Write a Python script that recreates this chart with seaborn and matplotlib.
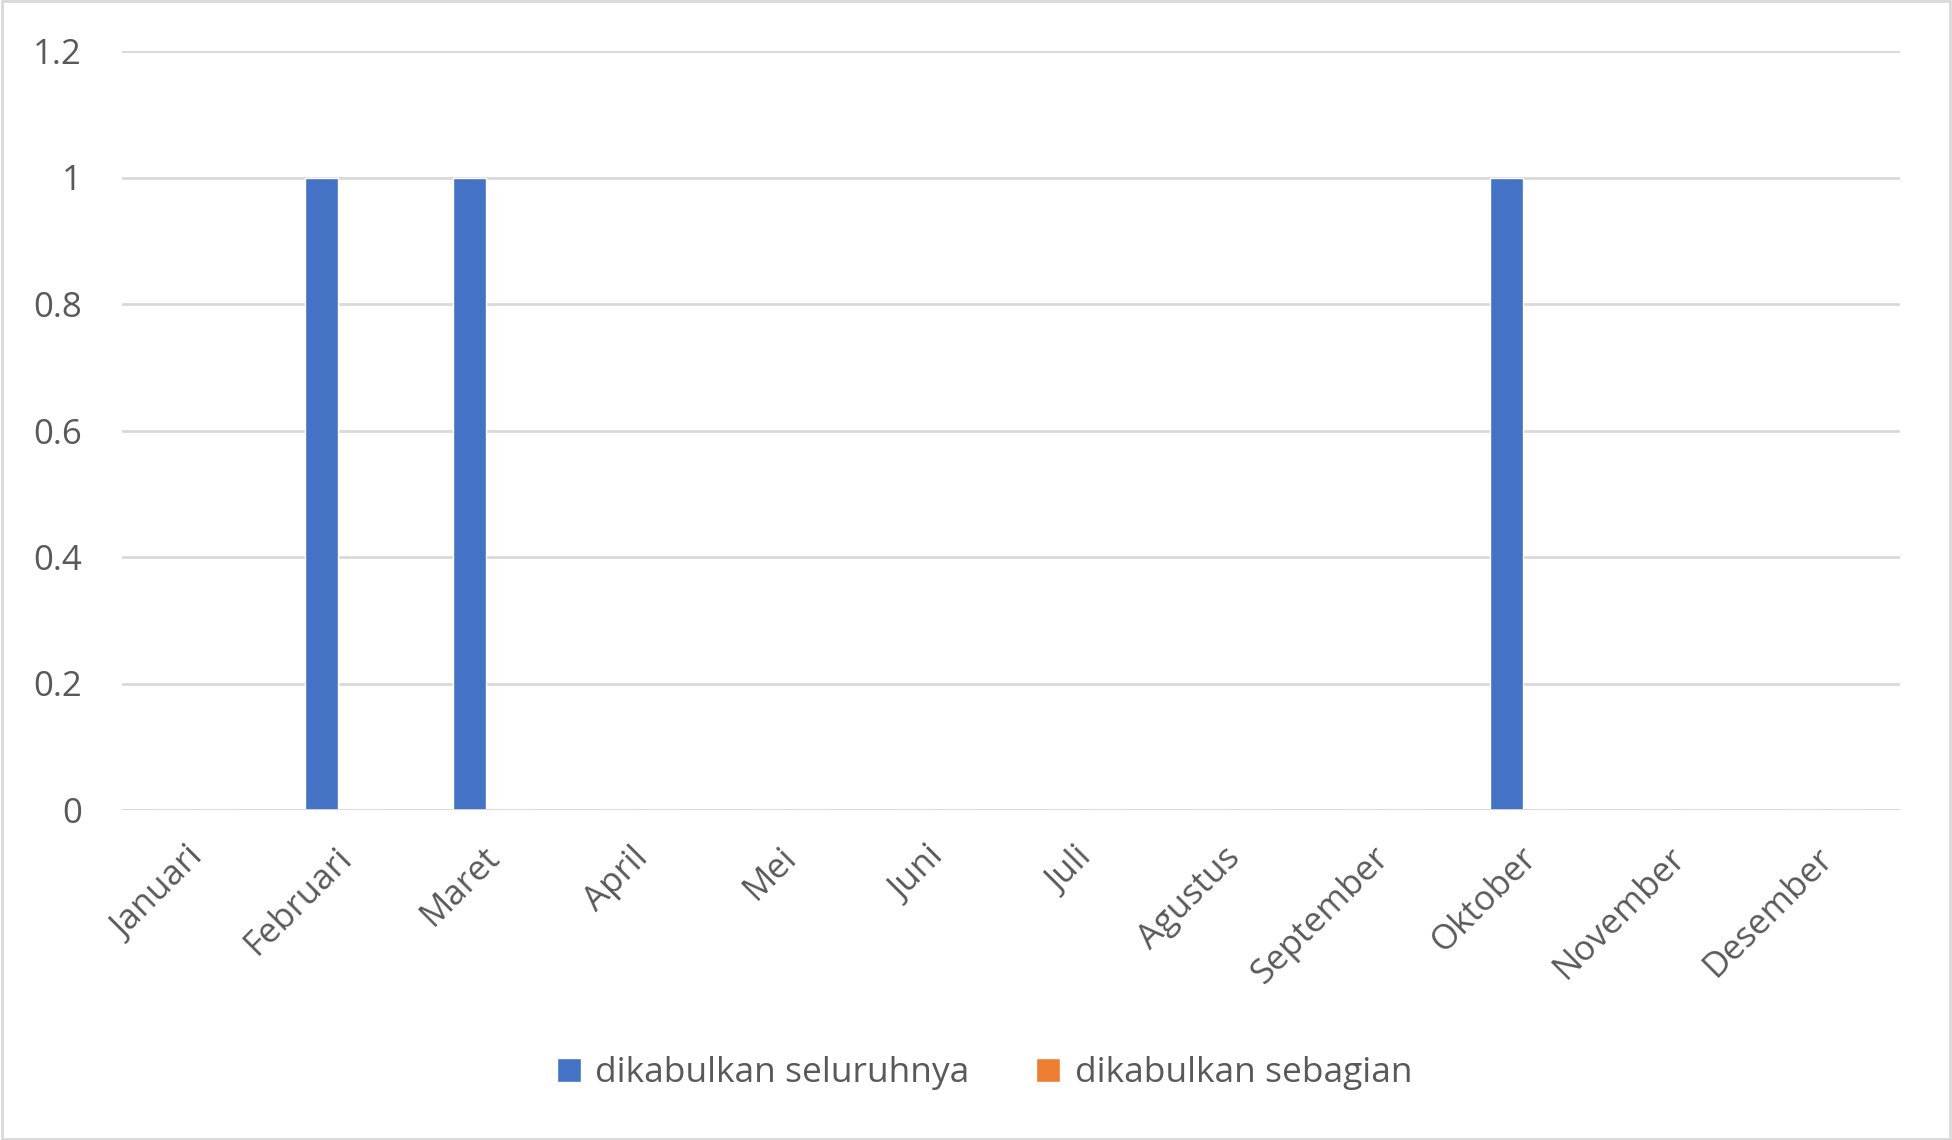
import pandas as pd
import matplotlib.pyplot as plt
import matplotlib.transforms as mtransforms
import seaborn as sns

# data
months = ["Januari", "Februari", "Maret", "April", "Mei", "Juni", "Juli",
          "Agustus", "September", "Oktober", "November", "Desember"]
seluruhnya = [0, 1, 1, 0, 0, 0, 0, 0, 0, 1, 0, 0]
sebagian = [0, 0, 0, 0, 0, 0, 0, 0, 0, 0, 0, 0]
series_names = ["dikabulkan seluruhnya", "dikabulkan sebagian"]
yticks = [0, 0.2, 0.4, 0.6, 0.8, 1, 1.2]

df = pd.DataFrame({
    "bulan": months * 2,
    "nilai": seluruhnya + sebagian,
    "seri": [series_names[0]] * len(months) + [series_names[1]] * len(months),
})

sns.set_style("white")
plt.rcParams["font.family"] = ["Open Sans", "DejaVu Sans"]
grey = "#595959"

fig = plt.figure(figsize=(19.52, 11.40), dpi=100)
ax = fig.add_axes([122 / 1952, 1 - 810 / 1140, (1900 - 122) / 1952, (810 - 51) / 1140])

sns.barplot(data=df, x="bulan", y="nilai", hue="seri",
            palette=["#4472C4", "#ED7D31"], width=0.61, gap=0.27,
            saturation=1, ax=ax, zorder=3)

ax.set_ylim(0, 1.2)
ax.set_xlim(-0.5, len(months) - 0.5)
ax.set_yticks(yticks)
ax.set_yticklabels([f"{v:g}" for v in yticks])
ax.grid(axis="y", color="#D9D9D9", linewidth=2, zorder=0)
ax.set_xlabel("")
ax.set_ylabel("")
for s in ["top", "right", "left", "bottom"]:
    ax.spines[s].set_visible(False)
ax.axhline(0, color="#D9D9D9", linewidth=2, zorder=4)

ax.tick_params(axis="y", length=0, pad=29, labelsize=25, labelcolor=grey)
ax.tick_params(axis="x", length=0, pad=22, labelsize=25, labelcolor=grey)
shift = mtransforms.ScaledTranslation(-7 / 72, 0, fig.dpi_scale_trans)
for lbl in ax.get_xticklabels():
    lbl.set_rotation(45)
    lbl.set_ha("right")
    lbl.set_rotation_mode("anchor")
    lbl.set_transform(lbl.get_transform() + shift)

handles, labels = ax.get_legend_handles_labels()
ax.legend(handles, labels, loc="center", bbox_to_anchor=(0.485, -0.347),
          ncol=2, frameon=False, fontsize=25.5, labelcolor=grey,
          handlelength=0.68, handleheight=0.68, handletextpad=0.4,
          columnspacing=1.9)

# chart border
fig.patches.append(plt.Rectangle((0.001, 0.001), 0.998, 0.998,
                                 transform=fig.transFigure, fill=False,
                                 edgecolor="#D9D9D9", linewidth=2))

plt.savefig("out.png", dpi=100)
